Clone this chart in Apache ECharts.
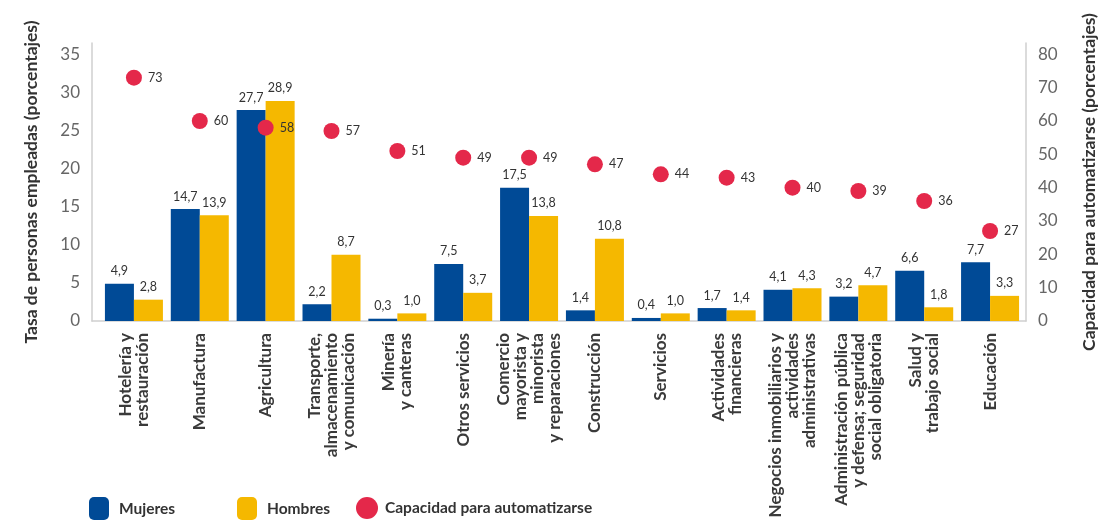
<!DOCTYPE html>
<html>
<head>
<meta charset="utf-8">
<script src="https://cdn.jsdelivr.net/npm/echarts@6/dist/echarts.min.js"></script>
<style>
html,body{margin:0;padding:0;background:#fff;}
#chart{width:1106px;height:523px;}
</style>
</head>
<body>
<div id="chart"></div>
<script>
const categories = [
  "Hotelería y\nrestauración",
  "Manufactura",
  "Agricultura",
  "Transporte,\nalmacenamiento\ny comunicación",
  "Minería\ny canteras",
  "Otros servicios",
  "Comercio\nmayorista y\nminorista\ny reparaciones",
  "Construcción",
  "Servicios",
  "Actividades\nfinancieras",
  "Negocios inmobiliarios y\nactividades\nadministrativas",
  "Administración pública\ny defensa; seguridad\nsocial obligatoria",
  "Salud y\ntrabajo social",
  "Educación"
];
const mujeres = [4.9, 14.7, 27.7, 2.2, 0.3, 7.5, 17.5, 1.4, 0.4, 1.7, 4.1, 3.2, 6.6, 7.7];
const hombres = [2.8, 13.9, 28.9, 8.7, 1.0, 3.7, 13.8, 10.8, 1.0, 1.4, 4.3, 4.7, 1.8, 3.3];
const capacidad = [73, 60, 58, 57, 51, 49, 49, 47, 44, 43, 40, 39, 36, 27];
const leftTicks = { min: 0, interval: 5, max: 36.5 };
const rightTicks = { min: 0, interval: 10, max: 83.4 };

const FONT = 'Lato';
const fmt = p => p.value.toFixed(1).replace('.', ',');
const chart = echarts.init(document.getElementById('chart'), null, { renderer: 'canvas' });
const axisLineStyle = { show: true, lineStyle: { color: '#cfcfcf', width: 1.5 } };
const legendText = { fontFamily: FONT, fontSize: 15.5, fontWeight: 'bold', color: '#333' };

chart.setOption({
  animation: false,
  textStyle: { fontFamily: FONT },
  grid: [
    { left: 92, right: 73, top: 43, bottom: 202, containLabel: false },
    { left: 101, right: 83, top: 43, bottom: 202, containLabel: false }
  ],
  legend: [
    { data: ['Mujeres'], left: 89, top: 497, padding: 0, itemWidth: 20, itemHeight: 23, itemGap: 0,
      textStyle: Object.assign({ padding: [0, 0, 0, 5] }, legendText) },
    { data: ['Hombres'], left: 237, top: 497, padding: 0, itemWidth: 20, itemHeight: 23, itemGap: 0,
      textStyle: Object.assign({ padding: [0, 0, 0, 5] }, legendText) },
    { data: [{ name: 'Capacidad para automatizarse', icon: 'circle' }], left: 356, top: 497, padding: 0, itemWidth: 22, itemHeight: 23, itemGap: 0,
      textStyle: Object.assign({ padding: [0, 0, 0, 2] }, legendText) }
  ],
  xAxis: [
    { type: 'category', gridIndex: 0, data: categories, axisLine: axisLineStyle,
      axisTick: { show: false }, axisLabel: { show: false } },
    { type: 'category', gridIndex: 1, data: categories, axisLine: { show: false },
      axisTick: { show: false },
      axisLabel: { interval: 0, rotate: 90, margin: 12, fontFamily: FONT, fontSize: 17,
        fontWeight: 'bold', color: '#3a3a3a', lineHeight: 17 } }
  ],
  yAxis: [
    { type: 'value', gridIndex: 0, position: 'left', min: leftTicks.min, max: leftTicks.max, interval: leftTicks.interval,
      axisLine: axisLineStyle, axisTick: { show: false }, splitLine: { show: false },
      axisLabel: { showMaxLabel: false, margin: 12, fontFamily: FONT, fontSize: 17, color: '#666' },
      name: 'Tasa de personas empleadas (porcentajes)', nameLocation: 'middle', nameRotate: 90, nameGap: 52,
      nameTextStyle: { fontFamily: FONT, fontSize: 17.5, fontWeight: 'bold', color: '#333' } },
    { type: 'value', gridIndex: 0, position: 'right', min: rightTicks.min, max: rightTicks.max, interval: rightTicks.interval,
      axisLine: axisLineStyle, axisTick: { show: false }, splitLine: { show: false },
      axisLabel: { showMaxLabel: false, margin: 12, fontFamily: FONT, fontSize: 17, color: '#666' },
      name: 'Capacidad para automatizarse (porcentajes)', nameLocation: 'middle', nameRotate: 90, nameGap: 54,
      nameTextStyle: { fontFamily: FONT, fontSize: 17.5, fontWeight: 'bold', color: '#333' } },
    { type: 'value', gridIndex: 1, min: leftTicks.min, max: leftTicks.max, show: false, splitLine: { show: false } },
    { type: 'value', gridIndex: 1, min: rightTicks.min, max: rightTicks.max, show: false, splitLine: { show: false } }
  ],
  series: [
    { name: 'Mujeres', type: 'bar', xAxisIndex: 1, yAxisIndex: 2, data: mujeres,
      barWidth: 29, barGap: '0%', itemStyle: { color: '#004a96' },
      label: { show: true, position: 'top', distance: 6, formatter: fmt, fontFamily: FONT, fontSize: 12.5, color: '#333' } },
    { name: 'Hombres', type: 'bar', xAxisIndex: 1, yAxisIndex: 2, data: hombres,
      barWidth: 29, barGap: '0%', itemStyle: { color: '#f5b800' },
      label: { show: true, position: 'top', distance: 6, formatter: fmt, fontFamily: FONT, fontSize: 12.5, color: '#333' } },
    { name: 'Capacidad para automatizarse', type: 'scatter', xAxisIndex: 1, yAxisIndex: 3, data: capacidad,
      symbol: 'circle', symbolSize: 16, itemStyle: { color: '#e4284a', opacity: 1 }, z: 5,
      label: { show: true, position: 'right', distance: 6, fontFamily: FONT, fontSize: 12.5, color: '#333' } }
  ]
});
</script>
</body>
</html>
